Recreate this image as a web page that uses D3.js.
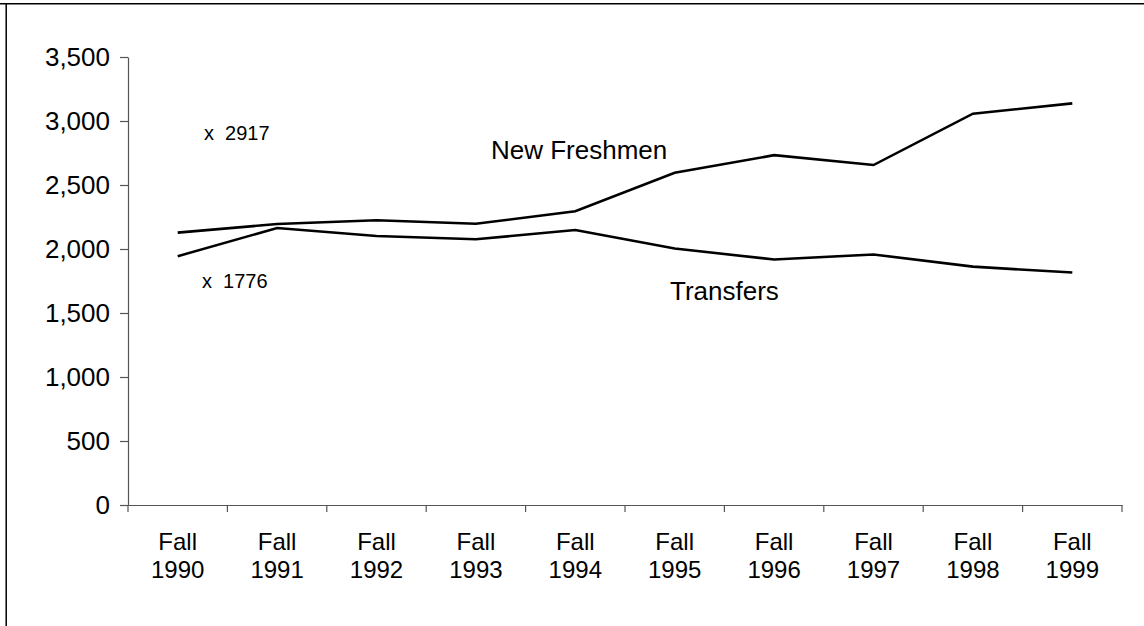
<!DOCTYPE html>
<html>
<head>
<meta charset="utf-8">
<script src="https://cdn.jsdelivr.net/npm/d3@7"></script>
<style>
  html, body { margin: 0; padding: 0; background: #fff; }
  svg { display: block; font-family: "Liberation Sans", Arial, sans-serif; }
</style>
</head>
<body>
<script>
const years = ["1990","1991","1992","1993","1994","1995","1996","1997","1998","1999"];
const categoryLabels = years.map(y => ["Fall", y]);
const newFreshmen = [2128, 2195, 2225, 2197, 2295, 2596, 2733, 2656, 3057, 3138];
const transfers = [1944, 2164, 2102, 2076, 2148, 2004, 1918, 1957, 1862, 1816];
const yTicks = [0, 500, 1000, 1500, 2000, 2500, 3000, 3500];
const seriesNames = ["New Freshmen", "Transfers"];
const notes = ["x  2917", "x  1776"];

const W = 1144, H = 626;
const svg = d3.select("body").append("svg").attr("width", W).attr("height", H);

// frame (top and left edges visible)
svg.append("line").attr("x1", 0).attr("x2", W).attr("y1", 3.75).attr("y2", 3.75)
  .attr("stroke", "#000").attr("stroke-width", 1.5);
svg.append("line").attr("x1", 6.2).attr("x2", 6.2).attr("y1", 3).attr("y2", H)
  .attr("stroke", "#000").attr("stroke-width", 1.5);

const x = d3.scaleBand().domain(years).range([128, 1122]).padding(0);
const y = d3.scaleLinear().domain([0, 3500]).range([505, 57]);
const cx = d => x(d) + x.bandwidth() / 2;

const axisColor = "#555";

// y axis
const yAxis = svg.append("g").attr("transform", "translate(128,0)")
  .call(d3.axisLeft(y).tickValues(yTicks).tickSize(8).tickSizeOuter(0).tickFormat(d3.format(",")));
yAxis.attr("font-size", null).attr("font-family", null);
yAxis.select(".domain").attr("stroke", axisColor).attr("stroke-width", 1.2);
yAxis.selectAll(".tick line").attr("stroke", axisColor).attr("stroke-width", 1.2);
yAxis.selectAll(".tick text").attr("x", -18).attr("fill", "#000")
  .style("font-size", "26px");

// x axis
const xAxis = svg.append("g").attr("transform", "translate(0,505)")
  .call(d3.axisBottom(x).tickSize(0).tickSizeOuter(0).tickFormat(""));
xAxis.select(".domain").attr("stroke", axisColor).attr("stroke-width", 1.2);
xAxis.selectAll(".tick").remove();
const boundaries = years.map(d => x(d)).concat([x(years[years.length - 1]) + x.bandwidth()]);
xAxis.selectAll("line.bt").data(boundaries).enter().append("line")
  .attr("class", "bt")
  .attr("x1", d => d).attr("x2", d => d).attr("y1", 0).attr("y2", 7)
  .attr("stroke", axisColor).attr("stroke-width", 1.2);

const lbl = svg.append("g").attr("font-size", 24).attr("text-anchor", "middle").attr("fill", "#000");
years.forEach((yr, i) => {
  lbl.append("text").attr("x", cx(yr)).attr("y", 550).text(categoryLabels[i][0]);
  lbl.append("text").attr("x", cx(yr)).attr("y", 578).text(categoryLabels[i][1]);
});

// lines
const line = d3.line().x((d, i) => cx(years[i])).y(d => y(d));
[newFreshmen, transfers].forEach(s => {
  svg.append("path").datum(s).attr("d", line)
    .attr("fill", "none").attr("stroke", "#000").attr("stroke-width", 2.6)
    .attr("stroke-linejoin", "miter");
});

// series labels
svg.append("text").attr("x", 491).attr("y", 159).attr("font-size", 26).text(seriesNames[0]);
svg.append("text").attr("x", 670).attr("y", 300).attr("font-size", 26).text(seriesNames[1]);

// notes
svg.append("text").attr("x", 204).attr("y", 140).attr("font-size", 20)
  .style("white-space", "pre").text(notes[0]);
svg.append("text").attr("x", 202).attr("y", 288).attr("font-size", 20)
  .style("white-space", "pre").text(notes[1]);
</script>
</body>
</html>
